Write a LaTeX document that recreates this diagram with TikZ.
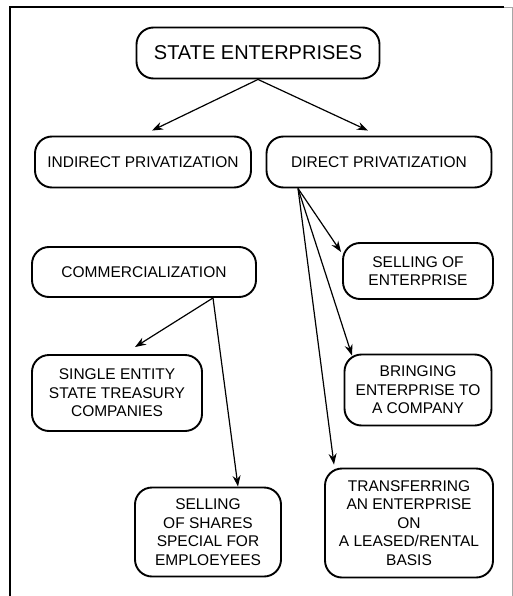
\documentclass[tikz,border=0pt]{standalone}
\usepackage{fontspec}
\setmainfont{Liberation Sans}
\usetikzlibrary{arrows.meta}
\begin{document}
\begin{tikzpicture}[x=1pt,y=-1pt,
  box/.style={draw, line width=1.9pt, rounded corners=17pt, align=center,
    inner sep=0pt, font=\fontsize{15.5}{18.6}\selectfont},
  arr/.style={line width=1.2pt, -{Stealth[length=11pt,width=8pt]}}]
\useasboundingbox (0,0) rectangle (513,596);

% frame
\draw[line width=1.8pt] (10,596) -- (10,7) -- (504,7);
\draw[line width=0.8pt, black!35] (504,7) -- (512,7) -- (512,596);

% boxes
\node[box, minimum width=243pt, minimum height=51pt,
  font=\fontsize{20}{24}\selectfont] (se) at (258,53) {STATE ENTERPRISES};
\node[box, minimum width=216pt, minimum height=51pt] (ind) at (143,162) {INDIRECT PRIVATIZATION};
\node[box, minimum width=225pt, minimum height=51pt] (dir) at (379,162) {DIRECT PRIVATIZATION};
\node[box, minimum width=224pt, minimum height=50pt] (com) at (144,272) {COMMERCIALIZATION};
\node[box, minimum width=150pt, minimum height=56pt] (sell) at (418,271) {SELLING OF\\ENTERPRISE};
\node[box, minimum width=170pt, minimum height=76pt] (single) at (117,393) {SINGLE ENTITY\\STATE TREASURY\\COMPANIES};
\node[box, minimum width=147pt, minimum height=71pt] (bring) at (418,390) {BRINGING\\ENTERPRISE TO\\A COMPANY};
\node[box, minimum width=146pt, minimum height=89pt] (shares) at (208,532) {SELLING\\OF SHARES\\SPECIAL FOR\\EMPLOEYEES};
\node[box, minimum width=168pt, minimum height=109pt] (trans) at (409,523) {TRANSFERRING\\AN ENTERPRISE\\ON\\A LEASED/RENTAL\\BASIS};

% connector origins
\coordinate (dsrc) at ([xshift=-81pt]dir.south);
\coordinate (csrc) at ([xshift=69pt]com.south);

% connectors
\draw[arr] (se.south) -- ([xshift=9pt,yshift=5pt]ind.north);
\draw[arr] (se.south) -- ([xshift=-11pt,yshift=5pt]dir.north);
\draw[arr] (dsrc) -- ([xshift=-1pt,yshift=19pt]sell.west);
\draw[arr] (dsrc) -- ([xshift=-66pt,yshift=-2pt]bring.north);
\draw[arr] (dsrc) -- ([xshift=-75pt,yshift=3pt]trans.north);
\draw[arr] (csrc) -- ([xshift=18pt,yshift=7pt]single.north);
\draw[arr] (csrc) -- ([xshift=30pt]shares.north);
\end{tikzpicture}
\end{document}
